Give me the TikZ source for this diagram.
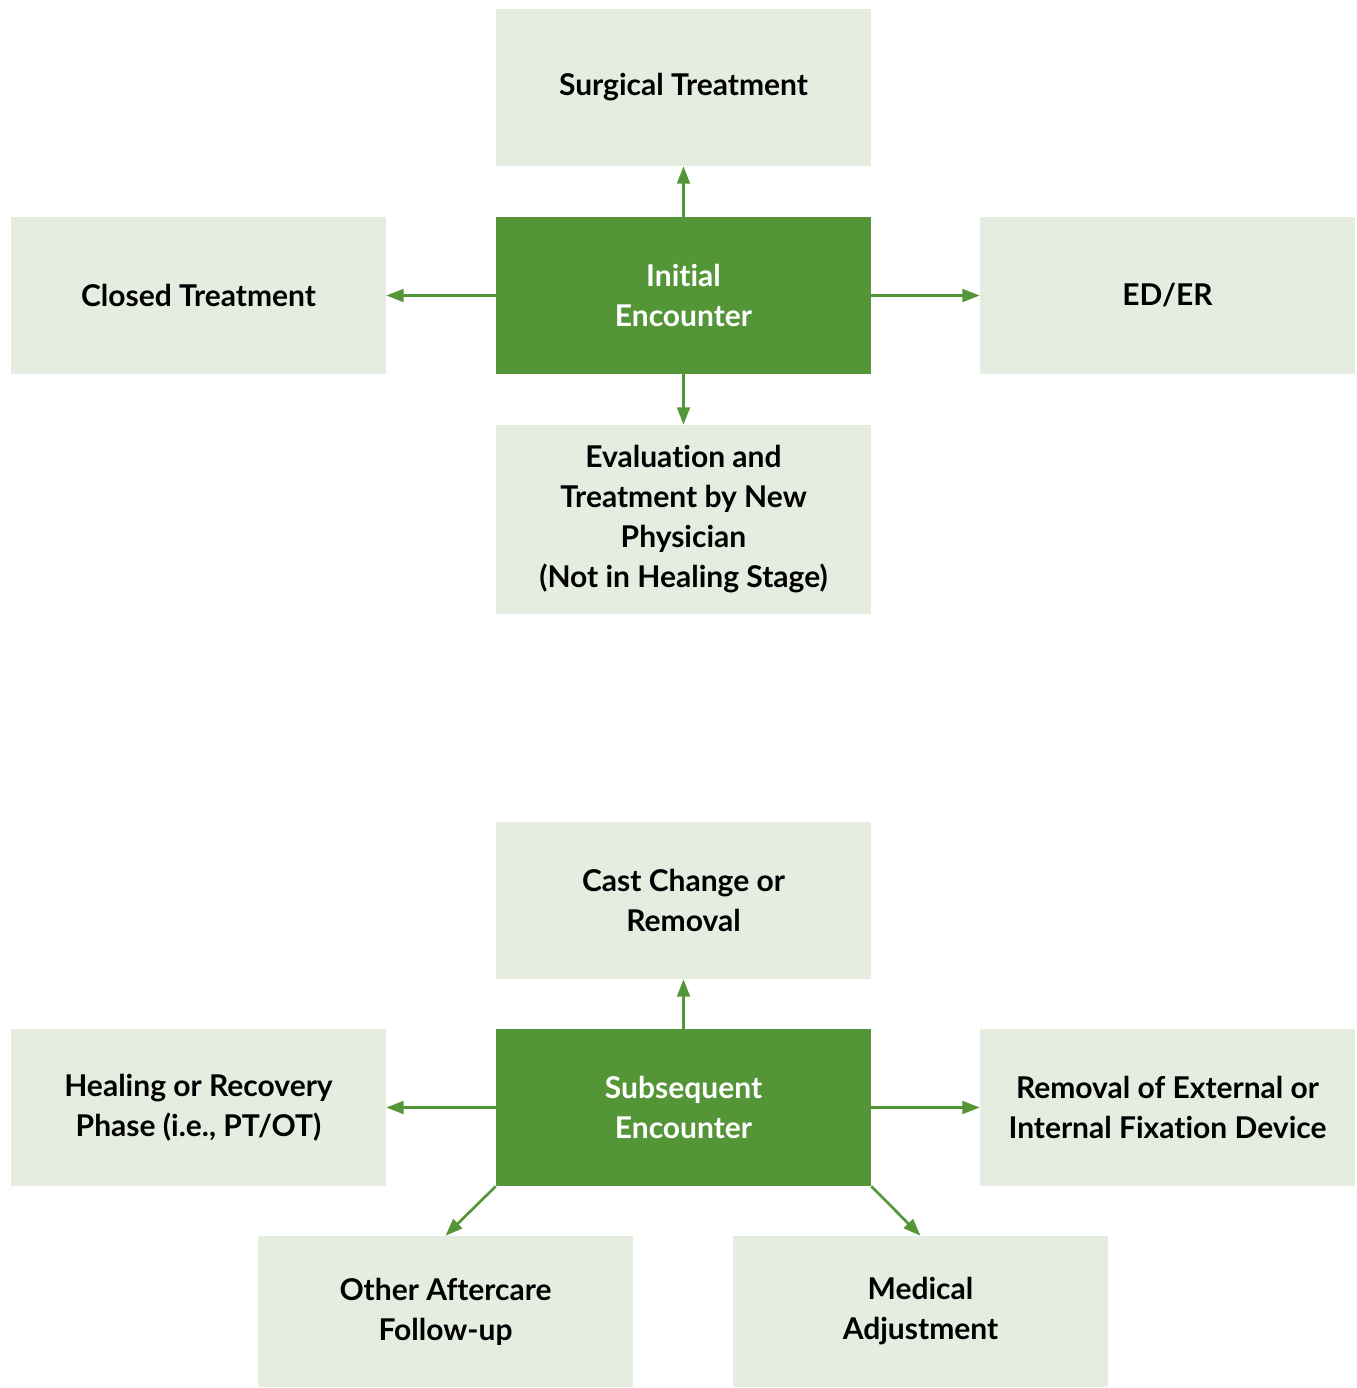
\documentclass[tikz,border=0pt]{standalone}
\usepackage{fontspec}
\setmainfont{Lato}[Ligatures={NoCommon}]
\usetikzlibrary{arrows.meta}
\definecolor{dkgreen}{HTML}{549538}
\definecolor{ltgreen}{HTML}{E5EDE0}
\begin{document}
\begin{tikzpicture}[x=0.75pt,y=-0.75pt,
  box/.style={fill=ltgreen,draw=none,minimum width=281.25pt,minimum height=117.75pt,inner sep=0pt,align=center,
    font=\fontsize{22.5}{30}\selectfont\bfseries,text=black},
  mainbox/.style={box,fill=dkgreen,text=white},
  arr/.style={draw=dkgreen,line width=2pt,-{Triangle[length=13pt,width=9.5pt]},shorten >=0pt}]
\useasboundingbox (0,0) rectangle (1356,1388);
% top group
\node[box] (surg) at (683.5,87.5) {Surgical Treatment};
\node[mainbox] (init) at (683.5,295.5) {Initial\\Encounter};
\node[box] (closed) at (198.5,295.5) {Closed Treatment};
\node[box] (eder) at (1167.5,295.5) {ED/ER};
\node[box,minimum height=141.75pt] (eval) at (683.5,519.5) {Evaluation and\\Treatment by New\\Physician\\(Not in Healing Stage)};
\draw[arr] (init) -- (surg);
\draw[arr] (init) -- (closed);
\draw[arr] (init) -- (eder);
\draw[arr] (init) -- (eval);
% bottom group
\node[box] (cast) at (683.5,900.5) {Cast Change or\\Removal};
\node[mainbox] (subs) at (683.5,1107.5) {Subsequent\\Encounter};
\node[box] (heal) at (198.5,1107.5) {Healing or Recovery\\Phase (i.e., PT/OT)};
\node[box] (remv) at (1167.5,1107.5) {Removal of External or\\Internal Fixation Device};
\node[box,minimum height=113.25pt] (other) at (445.5,1311.5) {Other Aftercare\\Follow-up};
\node[box,minimum height=113.25pt] (med) at (920.5,1311.5) {Medical\\Adjustment};
\draw[arr] (subs) -- (cast);
\draw[arr] (subs) -- (heal);
\draw[arr] (subs) -- (remv);
\draw[arr] (subs.south west) -- (other.north);
\draw[arr] (subs.south east) -- (med.north);
\end{tikzpicture}
\end{document}
